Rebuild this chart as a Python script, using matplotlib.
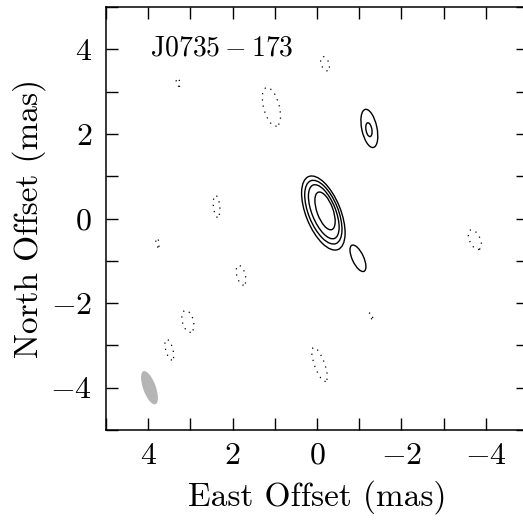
import matplotlib
matplotlib.use("Agg")
import matplotlib.pyplot as plt
from matplotlib.patches import Ellipse
from matplotlib.ticker import MultipleLocator

plt.rcParams["font.family"] = ["cmr10", "DejaVu Serif"]
plt.rcParams["mathtext.fontset"] = "cm"
plt.rcParams["axes.formatter.use_mathtext"] = True

source = r"$\mathrm{J0735-173}$"

# positive (solid) contours: east offset, north offset, major, minor (mas), PA (deg)
pos_x = [-0.15, -0.15, -0.16, -0.19, -1.24, -1.23, -0.97]
pos_y = [0.13, 0.15, 0.16, 0.18, 2.13, 2.10, -0.94]
pos_major = [1.86, 1.60, 1.36, 0.94, 0.92, 0.33, 0.68]
pos_minor = [0.82, 0.70, 0.56, 0.38, 0.36, 0.14, 0.27]
pos_pa = [22, 22, 22, 20, 12, 10, 25]

# negative (dotted) contours
neg_x = [1.08, -0.19, 3.29, 2.38, 3.78, 1.80, 3.06, 3.50, -0.06, -1.28, -3.74]
neg_y = [2.64, 3.66, 3.22, 0.29, -0.57, -1.34, -2.43, -3.10, -3.45, -2.30, -0.50]
neg_major = [0.94, 0.35, 0.20, 0.52, 0.22, 0.48, 0.53, 0.50, 0.85, 0.15, 0.50]
neg_minor = [0.37, 0.18, 0.08, 0.15, 0.07, 0.20, 0.26, 0.17, 0.24, 0.06, 0.25]
neg_pa = [15, 20, 15, 5, 10, 15, 15, 15, 20, 20, 25]

# restoring beam
beam_x, beam_y = 3.97, -4.0
beam_major, beam_minor, beam_pa = 0.83, 0.30, 20

fig = plt.figure(figsize=(5.23, 5.27), dpi=100)
ax = fig.add_axes([0.2027, 0.184, 0.8069, 0.8027])

ax.add_patch(Ellipse((beam_x, beam_y), beam_minor, beam_major, angle=-beam_pa,
                     facecolor="#b5b5b5", edgecolor="none"))
for x, y, maj, mnr, pa in zip(pos_x, pos_y, pos_major, pos_minor, pos_pa):
    ax.add_patch(Ellipse((x, y), mnr, maj, angle=-pa, fill=False,
                         edgecolor="black", linewidth=1.0))
for x, y, maj, mnr, pa in zip(neg_x, neg_y, neg_major, neg_minor, neg_pa):
    ax.add_patch(Ellipse((x, y), mnr, maj, angle=-pa, fill=False,
                         edgecolor="black", linewidth=0.9, linestyle=(0, (1, 4))))

ax.set_xlim(5, -5)
ax.set_ylim(-5, 5)
ax.xaxis.set_major_locator(MultipleLocator(2))
ax.yaxis.set_major_locator(MultipleLocator(2))
ax.xaxis.set_minor_locator(MultipleLocator(1))
ax.yaxis.set_minor_locator(MultipleLocator(1))
ax.tick_params(which="both", direction="in", top=True, right=True,
               length=8.5, width=1.0, labelsize=23)
ax.tick_params(axis="x", pad=9)
ax.tick_params(axis="y", pad=10)
for sp in ax.spines.values():
    sp.set_linewidth(1.1)

ax.set_xlabel("East Offset (mas)", fontsize=24, labelpad=7)
ax.set_ylabel("North Offset (mas)", fontsize=24, labelpad=3)
ax.text(0.104, 0.903, source, transform=ax.transAxes, fontsize=20,
        ha="left", va="center")

fig.savefig("out.png", dpi=100)
plt.close(fig)
